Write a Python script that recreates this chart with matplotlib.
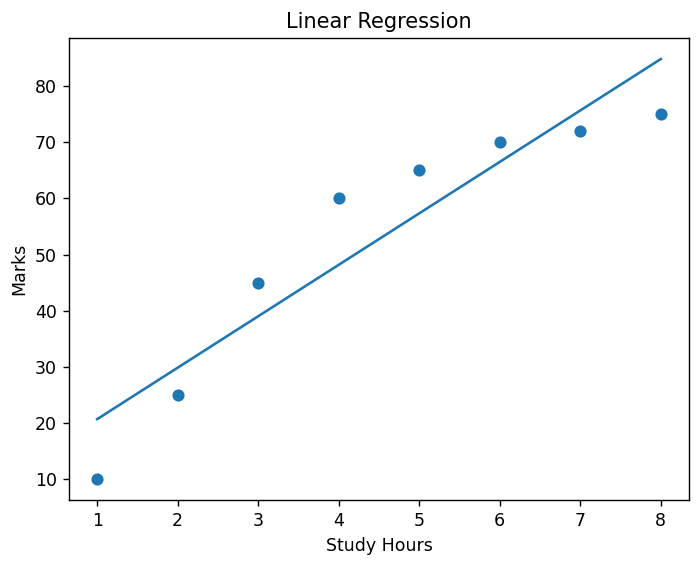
import numpy as np
import matplotlib
matplotlib.use('Agg')
import matplotlib.pyplot as plt

# study hours vs marks
hours = [1, 2, 3, 4, 5, 6, 7, 8]
marks = [10, 25, 45, 60, 65, 70, 72, 75]

# fit a straight line
slope, intercept = np.polyfit(hours, marks, 1)
predicted = [slope * h + intercept for h in hours]

fig = plt.figure(figsize=(698 / 125, 566 / 125), dpi=125)
ax = fig.add_axes([69 / 698, 1 - 500 / 566, 620 / 698, 462 / 566])

ax.scatter(hours, marks)
ax.plot(hours, predicted)
ax.set_title('Linear Regression')
ax.set_xlabel('Study Hours')
ax.set_ylabel('Marks')

fig.savefig('out.png', dpi=125)
